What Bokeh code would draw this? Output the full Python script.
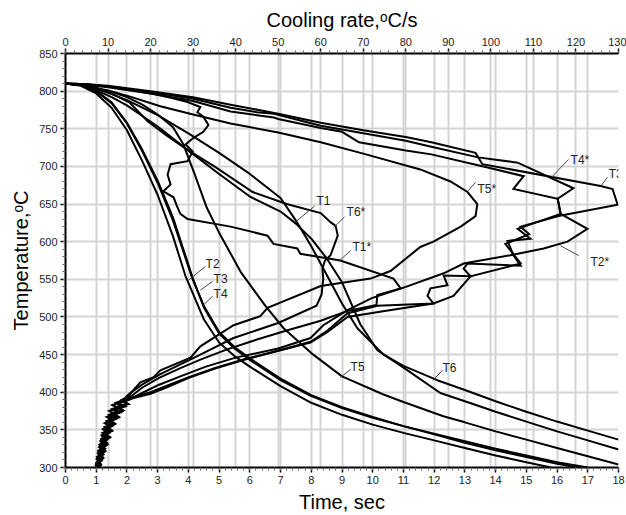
from bokeh.plotting import figure
from bokeh.models import Range1d, LinearAxis, SingleIntervalTicker, Grid
from bokeh.core.properties import value
from bokeh.embed import file_html
from bokeh.resources import INLINE

FONT = "Liberation Sans"

# ---------------- cooling curves: temperature vs time ----------------
t_T1 = [0, 0.5, 1, 1.5, 2, 3, 3.97, 5, 6, 7, 7.5, 8, 8.5, 9, 9.6, 10.15, 11.1, 12.2, 13, 14, 15, 16, 17, 18]
temp_T1 = [810, 808, 801, 792, 781, 753, 722, 690, 660, 640, 624, 604, 578, 546, 490, 456, 430, 399, 388, 374, 361, 348, 336, 324]

t_T2 = [0, 0.5, 1, 1.5, 2, 2.5, 3, 3.5, 3.9, 4.5, 5, 5.5, 6, 7, 8, 9, 10, 11, 12, 13, 14, 15, 15.8]
temp_T2 = [810, 807, 797, 778, 748, 707, 662, 607, 555, 497, 466, 448, 434, 408, 386, 370, 357, 346, 336, 326, 316, 307, 300]

t_T3 = [0, 0.5, 1, 1.5, 2, 2.5, 3, 3.5, 4.13, 4.5, 5, 5.5, 6, 7, 8, 9, 10, 11, 12, 13, 14, 15, 16, 16.7]
temp_T3 = [810, 808, 800, 784, 757, 720, 678, 628, 551, 515, 480, 460, 445, 418, 396, 380, 367, 355, 344, 333, 323, 314, 305, 300]

t_T4 = [0, 0.5, 1, 1.5, 2, 2.5, 3, 3.5, 4.13, 4.5, 5, 5.5, 6, 7, 8, 9, 10, 11, 12, 13, 14, 15, 16, 17]
temp_T4 = [810, 808, 800, 785, 758, 722, 681, 632, 553, 513, 478, 458, 443, 416, 395, 379, 366, 355, 345, 335, 325, 316, 307, 300]

t_T5 = [0, 0.5, 1, 1.5, 2, 2.5, 3, 3.5, 3.84, 4.2, 4.6, 5, 5.7, 6.5, 7.1, 8, 9, 10.35, 11, 12.3, 13, 14, 15, 16, 17, 18]
temp_T5 = [810, 808, 804, 799, 792, 782, 769, 752, 729, 690, 645, 612, 560, 515, 485, 452, 421, 397, 387, 368, 360, 348, 337, 326, 315, 304]

t_T6 = [0, 0.5, 1, 1.5, 2, 3, 4, 5, 6, 7, 7.5, 8, 8.5, 9, 9.5, 10.35, 11, 12.1, 13, 14, 15, 16, 17, 18]
temp_T6 = [810, 808, 803, 796, 788, 768, 744, 718, 690, 658, 628, 594, 556, 518, 485, 450, 435, 416, 403, 388, 374, 361, 349, 337]

# ---------------- cooling-rate curves: temperature vs cooling rate ----------------
r_T1s = [0, 5, 10, 15, 20, 25, 28.7, 31.7, 31, 32.4, 33.6, 32.4, 30.1, 28.2, 29.9, 28.7, 26.6, 24.7, 24, 24.7, 23,
         25.4, 26.3, 27, 28.7, 38.8, 47.5, 48.9, 54.5, 55.2, 64.6, 77.1, 78.8, 73.3, 73.1, 66.3, 60, 52, 45, 38, 32,
         27, 22, 18, 15.5, 13.3, 14.6, 12.2, 13.6, 11.2, 12.6, 10.4, 11.7, 9.9, 11.0, 9.3, 10.5, 8.9, 9.9, 8.5, 9.4,
         8.1, 8.9, 7.8, 8.4, 7.6]
temp_T1s = [810, 809, 806, 802, 797, 791, 785.5, 779, 772, 766, 755, 746, 738, 729, 720, 707, 705, 703, 689, 676, 667,
            659, 646, 637, 630, 620, 608, 597, 591, 584, 575, 551, 538, 529, 516, 508, 495, 482, 470, 457, 444,
            432, 419, 406, 395, 390, 385, 381, 376, 372, 367, 363, 358, 354, 349, 345, 340, 336, 331, 327, 322,
            318, 313, 309, 304, 300]

r_T2s = [0, 5, 10, 20, 30, 38.8, 45, 49, 50, 60, 65, 69, 80, 86, 99, 107.7, 105.3, 115.7, 116.4, 122.7, 118, 112.4,
         104.6, 93.6, 88.9, 80, 72, 66.3, 60.6, 57.6, 50, 40, 33, 27, 22, 18, 15, 12.4, 14.0, 11.5, 12.9, 10.6,
         12.0, 10.0, 11.3, 9.4, 10.7, 9.0, 10.2, 8.6, 9.7, 8.3, 9.3, 7.9, 8.9, 7.6, 8.5, 7.3, 7.9]
temp_T2s = [810, 808, 805, 797, 787, 773, 768, 765, 763, 751, 746, 732, 721, 716, 699, 687, 670, 657, 637, 617, 600, 591,
            582, 571, 558, 540, 525, 509, 489, 472, 458, 446, 434, 421, 410, 399, 390, 385, 381, 377, 373, 369,
            365, 361, 357, 353, 349, 345, 341, 337, 333, 329, 325, 321, 317, 313, 309, 305, 300]

r_T3s = [0, 5, 10, 20, 30, 38.8, 50, 60, 70, 80, 86, 96.4, 98, 125.8, 128.6, 129.8, 115.9, 107, 109, 103.4, 107,
         95.2, 91.2, 86.5, 73.3, 66.3, 61.6, 57.6, 50, 42, 35, 29, 24, 20, 16.3, 13.2, 14.8, 12.0, 13.3, 10.9, 12.3,
         10.2, 11.4, 9.6, 10.8, 9.1, 10.2, 8.7, 9.7, 8.3, 9.2, 7.9, 8.8, 7.6, 8.3, 7.5]
temp_T3s = [810, 809, 807, 800, 792, 782, 770, 758, 748, 739, 732, 718, 703, 674, 670, 649, 634, 620, 610, 597, 571,
            554, 528, 518, 515, 505, 482, 467, 455, 444, 432, 420, 409, 400, 394, 389, 384, 380, 375, 371, 366,
            362, 357, 353, 348, 344, 339, 335, 330, 326, 321, 317, 312, 308, 303, 300]

r_T4s = [0, 5, 10, 20, 30, 38.8, 45, 49, 60, 70, 80, 86, 97, 106.3, 119.4, 115.7, 116.4, 106.3, 109.3, 103.9, 105.3,
         107, 94.5, 93.6, 95.2, 88.9, 89.8, 85.8, 85.1, 86.5, 75, 66.3, 61.6, 57.6, 50, 42, 35, 29, 24, 20, 16.5,
         14.4, 12.0, 13.6, 11.1, 12.5, 10.3, 11.6, 9.7, 10.9, 9.2, 10.3, 8.7, 9.8, 8.4, 9.3, 8.0, 8.9, 7.7, 8.5,
         7.4, 8.2, 7.2, 7.8, 7.4]
temp_T4s = [810, 809, 806, 799, 790, 778, 772, 770, 754, 744, 734, 726, 712, 705, 671, 657, 637, 617, 604, 601, 582,
            568, 571, 564, 554, 555, 542, 538, 528, 518, 508, 500, 480, 466, 455, 443, 431, 419, 407, 398, 393,
            390, 386, 382, 378, 374, 370, 366, 362, 358, 354, 350, 346, 342, 338, 334, 330, 326, 322, 318,
            314, 310, 306, 302, 300]

r_T5s = [0, 5, 10, 15, 22.3, 30, 38.8, 50, 60, 70, 83.4, 90.5, 94.5, 96.8, 96.4, 92.9, 86.5, 83.4, 76.4, 71.7, 60,
         47.5, 45.8, 39.5, 31.7, 29.4, 22.3, 20.7, 17.6, 16, 14.1, 12.0, 13.4, 11.0, 12.4, 10.2, 11.6, 9.6, 10.9,
         9.1, 10.3, 8.7, 9.8, 8.3, 9.3, 8.0, 8.8, 7.6, 8.3, 7.3, 7.7]
temp_T5s = [810, 807, 801, 793, 780, 769, 757, 745, 732, 717, 696, 680, 666, 650, 634, 620, 600, 593, 561, 551, 541,
            512, 501, 489, 461, 446, 429, 420, 413, 403, 391, 386, 382, 377, 373, 368, 364, 359, 355,
            350, 346, 341, 337, 332, 328, 323, 319, 314, 310, 305, 300]

r_T6s = [0, 5, 10, 15, 19.3, 24, 28.7, 35, 44, 52, 60, 62.3, 63.5, 64, 62.3, 61, 60.4, 60.6, 60.2, 59, 50, 39.5, 31,
         22.3, 18, 15, 13, 11.0, 12.5, 10.3, 11.7, 9.7, 11.0, 9.2, 10.4, 8.8, 9.9, 8.5, 9.5, 8.2, 9.1, 7.9, 8.7,
         7.6, 8.3, 7.3, 8.0, 7.1, 7.5]
temp_T6s = [810, 807, 799, 785, 760, 740, 722, 700, 666, 650, 638, 626, 621, 608, 582, 575, 564, 551, 530, 515, 492,
            472, 448, 424, 410, 398, 387, 383, 379, 375, 371, 367, 363, 359, 355, 351, 347, 343, 339, 335, 331,
            327, 323, 319, 315, 311, 307, 303, 300]

# ---------------- curve labels (time/temperature units) ----------------
lab_text = ["T1", "T6*", "T1*", "T5*", "T4*", "T3*", "T2*", "T2", "T3", "T4", "T5", "T6"]
lab_x = [8.17, 9.15, 9.34, 13.41, 16.44, 17.68, 17.09, 4.56, 4.82, 4.82, 9.28, 12.27]
lab_y = [654.0, 639.5, 593.4, 669.7, 707.9, 689.5, 572.4, 569.7, 550.0, 530.3, 432.9, 431.6]
lead_x0 = [8.11, 9.08, 9.28, 13.35, 16.37, 17.64, 16.70, 4.56, 4.79, 4.79, 9.28, 12.27]
lead_y0 = [647.4, 632.9, 588.2, 678.9, 709.2, 685.5, 581.6, 567.1, 547.4, 527.6, 430.3, 429.0]
lead_x1 = [7.49, 8.72, 8.89, 13.09, 15.82, 17.42, 16.11, 4.00, 4.39, 4.49, 8.95, 11.95]
lead_y1 = [626.3, 618.4, 573.7, 667.1, 685.5, 673.7, 594.7, 548.7, 535.5, 515.8, 419.7, 415.8]

p = figure(width=626, height=515, x_range=Range1d(0, 18), y_range=Range1d(300, 850),
           output_backend="svg", toolbar_location=None,
           min_border_left=65, min_border_right=8, min_border_top=53, min_border_bottom=44)
p.extra_x_ranges = {"rate": Range1d(0, 130)}
p.outline_line_color = None
p.background_fill_color = "white"
p.border_fill_color = "white"

bottom = p.below[0]
left = p.left[0]
bottom.ticker = SingleIntervalTicker(interval=1, num_minor_ticks=5)
left.ticker = SingleIntervalTicker(interval=50, num_minor_ticks=5)
top = LinearAxis(x_range_name="rate", ticker=SingleIntervalTicker(interval=10, num_minor_ticks=5))
p.add_layout(top, "above")

bottom.axis_label = "Time, sec"
left.axis_label = "Temperature,\u1d52C"
top.axis_label = "Cooling rate,\u1d52C/s"

for ax in [bottom, left, top]:
    ax.axis_line_color = "black"
    ax.axis_line_width = 2
    ax.major_tick_line_color = "black"
    ax.major_tick_line_width = 1.5
    ax.major_tick_out = 5
    ax.major_tick_in = 0
    ax.minor_tick_line_color = "#666666"
    ax.minor_tick_out = 3
    ax.minor_tick_in = 0
    ax.major_label_text_font = FONT
    ax.major_label_text_font_size = "11px"
    ax.major_label_text_color = "#222222"
    ax.axis_label_text_font = FONT
    ax.axis_label_text_font_size = "20px"
    ax.axis_label_text_font_style = "normal"
    ax.axis_label_text_color = "black"
    ax.axis_label_standoff = 4
    ax.major_label_standoff = 3

for g in [p.xgrid[0], p.ygrid[0]]:
    g.grid_line_color = "#d4d4d4"
    g.grid_line_width = 2
top_grid = Grid(dimension=0, ticker=top.ticker, x_range_name="rate",
                grid_line_color="#d4d4d4", grid_line_width=2)
p.add_layout(top_grid)

LW = 2.0
for tx, ty in [(t_T1, temp_T1), (t_T2, temp_T2), (t_T3, temp_T3), (t_T4, temp_T4), (t_T5, temp_T5), (t_T6, temp_T6)]:
    p.line(tx, ty, line_color="black", line_width=LW)

for rx, ry in [(r_T1s, temp_T1s), (r_T2s, temp_T2s), (r_T3s, temp_T3s), (r_T4s, temp_T4s), (r_T5s, temp_T5s), (r_T6s, temp_T6s)]:
    p.line(rx, ry, line_color="black", line_width=LW, x_range_name="rate", line_join="miter")

p.segment(x0=lead_x0, y0=lead_y0, x1=lead_x1, y1=lead_y1, line_color="#444444", line_width=1)
p.text(x=lab_x, y=lab_y, text=lab_text, text_font=value(FONT), text_font_size="12px",
       text_baseline="middle", text_align="left", text_color="#222222")

open("out.html", "w").write(file_html(p, INLINE))
